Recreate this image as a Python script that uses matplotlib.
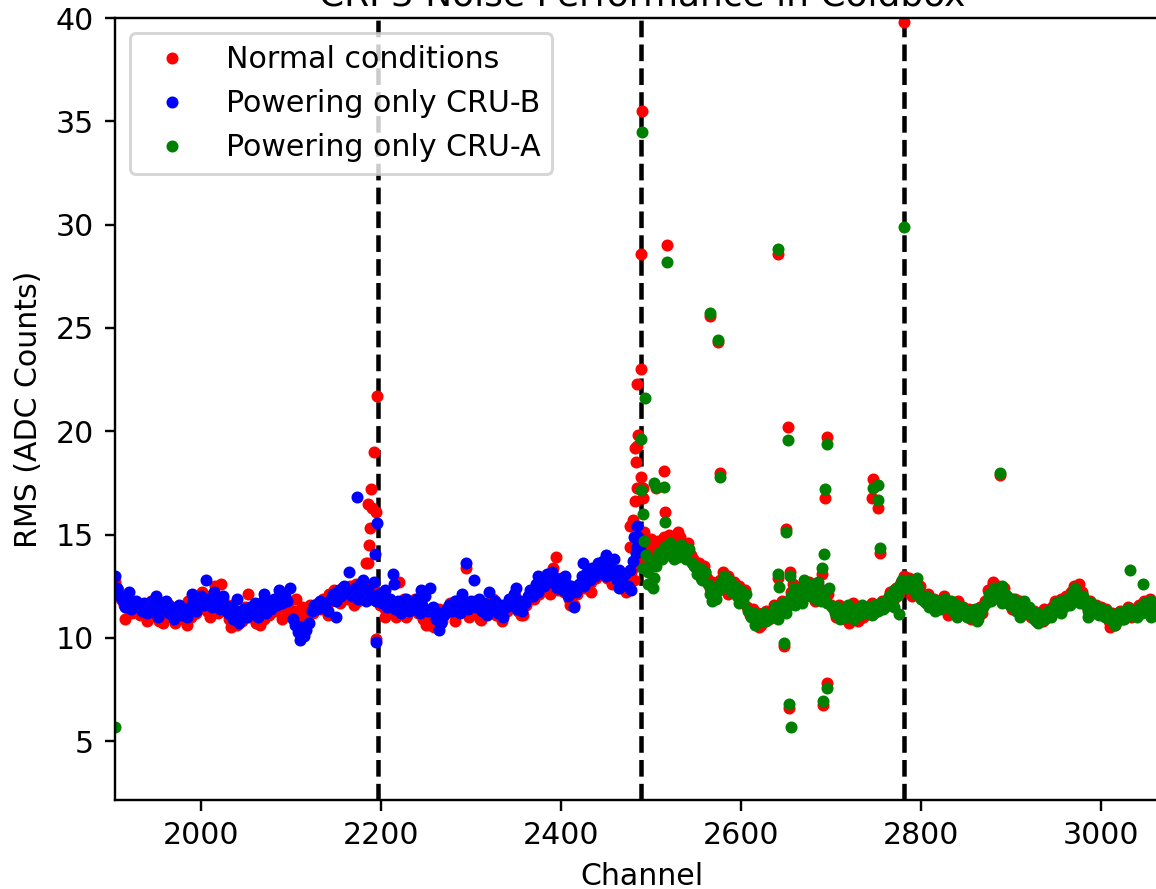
import numpy as np
import matplotlib
matplotlib.use("Agg")
import matplotlib.pyplot as plt

# ---------------- data ----------------
# Normal conditions (red) - band values, channels 1905, 1908, ...
red_start = 1905
red_band = [
    12.7, 12.3, 11.9, 11.6, 12.0, 11.4, 11.2, 11.7, 11.3,
    11.1, 11.6, 11.4, 10.9, 11.8, 11.2, 11.5, 10.8, 11.7, 11.3, 11.0, 11.6, 11.4, 10.7, 11.2,
    11.5, 10.9, 11.3, 11.8, 11.0, 11.6, 11.2, 11.9,
    12.2, 11.7, 11.3, 12.0, 11.5, 12.5, 11.2, 12.6, 11.9,
    11.4, 10.9, 11.6, 11.0, 10.6, 11.3, 10.8, 11.5, 12.1, 11.0,
    11.2, 10.7, 11.6, 11.3, 10.9, 11.5, 11.1,
    11.8, 11.3, 11.9, 11.5, 12.0, 11.4, 11.7, 11.2,
    11.3, 11.9, 11.0, 11.5, 10.9, 11.4, 11.6, 11.2, 11.5,
    11.7, 11.4, 11.9, 11.6, 12.1, 11.8, 12.3, 12.0, 11.7, 12.4, 12.2,
    11.9, 12.5, 12.1, 12.6, 11.8, 12.3, 12.0, 12.4, 12.2, 11.9, 12.3, 12.0,
    11.6, 12.1, 11.4, 11.8, 11.2, 11.5, 11.0, 11.7, 11.3, 11.9, 11.1, 11.6,
    11.4, 11.9, 11.2, 11.6, 10.9, 11.3, 10.6, 11.1, 10.5, 11.0, 11.4, 10.8, 11.2, 11.5,
    11.7, 11.2, 11.8, 11.4, 11.9, 11.3, 11.6, 11.0, 11.5,
    11.8, 11.3, 10.9, 11.6, 11.2, 11.7, 11.4,
    11.9, 11.1, 11.5, 10.9, 11.6, 11.3, 11.8,
    11.5, 12.0, 11.3, 11.7, 11.1, 11.6, 11.9,
    12.2, 11.9, 12.5, 12.1, 12.7,
    12.4, 13.0, 12.6, 13.4, 12.8, 12.3, 12.9,
    12.2, 12.6, 11.9, 12.4, 11.6, 12.1,
    12.5, 12.9, 12.4, 13.1, 12.7, 13.3, 12.9,
    13.5, 13.1, 13.6, 12.9, 13.4, 13.0, 13.3, 12.7, 13.2,
    12.6, 13.0, 12.4, 13.2, 12.8, 13.5, 14.0,
    14.6, 13.8, 14.3, 13.5, 14.1, 14.4,
    14.7, 14.2, 14.9, 14.5, 15.0, 14.6,
    14.8, 14.3, 14.9, 14.5, 14.2, 14.6, 14.0,
    13.8, 13.4, 13.6, 13.1, 13.5,
    12.9, 12.4, 12.7, 12.1, 12.5,
    12.8, 13.2, 12.6, 13.0, 12.4,
    12.7, 12.2, 12.5, 11.9, 12.3,
    11.5, 11.1, 11.4, 10.8, 11.2, 10.6, 11.0, 11.3, 10.9,
    11.2, 11.6, 11.0, 11.4, 11.8, 11.3, 11.7,
    12.2, 12.6, 12.0, 12.4, 11.9, 12.5, 12.1, 12.7, 12.3, 11.8, 12.4, 12.0,
    12.3, 11.8, 12.1, 11.6,
    11.4, 11.0, 11.6, 11.2, 10.9, 11.5, 11.1, 11.7, 11.3, 10.8, 11.4, 11.0, 11.5,
    11.3, 11.7, 11.2, 11.6, 11.4, 11.8, 11.5,
    11.9, 12.2, 11.8, 12.4, 12.1, 12.7, 13.0,
    12.6, 12.9, 12.3, 12.7, 12.2, 12.5,
    12.0, 11.7, 12.1, 11.6, 11.9, 11.4, 11.8, 11.5, 12.0, 11.6, 11.3, 11.7, 11.4, 11.8, 11.2, 11.5,
    11.1, 11.4, 10.9, 11.3, 11.0, 11.5, 11.2,
    11.8, 12.3, 12.0, 12.6, 12.2, 12.5, 11.9, 12.4, 12.0,
    11.7, 11.4, 11.9, 11.5, 11.8, 11.3, 11.6, 11.2,
    11.0, 11.3, 10.8, 11.1, 10.9, 11.4, 11.0, 11.3,
    11.5, 11.8, 11.4, 11.9, 11.6, 12.0, 11.7, 12.2, 12.5, 12.1, 11.8, 12.2,
    11.7, 11.4, 11.8, 11.3, 11.6, 11.2, 11.5,
    11.1, 11.4, 10.8, 11.2, 10.6, 11.0, 11.3, 10.9, 11.2, 11.5, 11.0, 11.4, 11.1,
    11.6, 11.3, 11.8, 11.5, 11.9, 11.4, 11.7, 11.2, 11.6, 11.9, 11.5, 11.8,
]
red_extra_ch = [1916, 1940, 1958, 1985, 2010, 2033, 2066, 2090, 2141, 2170, 2205, 2228,
                2250, 2282, 2311, 2335, 2356, 2388, 2410, 2433, 2457, 2472,
                2500, 2530, 2560, 2585, 2620, 2665, 2720, 2735, 2790, 2830, 2880, 2935,
                2975, 3010, 3060]
red_extra_rms = [10.9, 10.8, 10.7, 10.6, 11.0, 10.5, 10.6, 10.9, 11.1, 11.6, 11.0, 11.0,
                 10.6, 10.8, 10.85, 10.8, 11.1, 12.1, 11.6, 12.2, 12.6, 12.2,
                 14.8, 15.1, 13.2, 12.1, 10.5, 11.8, 10.7, 11.0, 12.0, 11.1, 12.7, 10.8,
                 12.6, 10.5, 11.1]
red_out_ch = [2196, 2192, 2189, 2186, 2190, 2194, 2188, 2187, 2183, 2186, 2194, 2220, 2295, 2394,
              2490, 2489, 2489, 2484, 2486, 2482, 2484, 2483, 2489, 2485, 2491, 2482, 2491,
              2480, 2477, 2492, 2477, 2506, 2514, 2516, 2518, 2565, 2574, 2577, 2641, 2641,
              2648, 2650, 2652, 2653, 2654, 2690, 2691, 2693, 2696, 2696, 2747, 2746, 2752,
              2754, 2781, 2888]
red_out_rms = [21.7, 19.0, 17.2, 16.5, 16.3, 16.1, 15.3, 14.5, 13.6, 13.6, 9.95, 12.7, 13.4, 13.9,
               35.5, 28.6, 23.0, 22.3, 19.8, 19.2, 19.3, 18.5, 17.8, 17.25, 17.25, 16.6, 16.75,
               15.7, 15.4, 15.1, 14.4, 17.25, 18.05, 16.1, 29.0, 25.6, 24.3, 18.0, 28.57, 12.9,
               9.6, 15.25, 20.2, 6.6, 13.2, 13.1, 6.75, 16.77, 19.7, 7.8, 17.7, 16.77, 16.3,
               14.1, 39.8, 17.9]

# Powering only CRU-B (blue) - band values, channels 1904, 1907, ...
blue_start = 1904
blue_band = [
    13.0, 12.4, 12.0, 11.8, 11.5, 11.9, 11.4, 11.6, 11.8,
    11.5, 11.3, 11.7, 11.2, 11.5, 11.8, 11.3, 11.0, 11.6, 11.4, 11.8, 11.2, 11.5, 10.9, 11.3,
    11.6, 11.1, 11.4, 11.0, 11.5, 11.8, 11.3, 11.7,
    12.0, 11.6, 12.8, 11.9, 11.5, 12.2, 11.8, 11.4, 12.0,
    11.6, 11.2, 11.5, 10.9, 11.3, 10.7, 11.1, 11.4, 11.0, 11.5,
    11.3, 11.7, 11.0, 11.4, 11.8, 11.2, 11.6,
    11.4, 11.9, 11.6, 12.3, 11.7, 12.0, 11.8, 12.4,
    10.9, 10.6, 10.3, 10.5, 10.1, 10.4, 10.7, 11.3, 11.6,
    11.4, 11.8, 11.5, 11.7, 11.3, 11.9, 12.1, 11.8, 12.3, 12.0, 12.5,
    12.2, 13.2, 12.0, 12.4, 11.9, 12.6, 12.1, 11.8, 12.3, 12.0, 12.7, 11.8,
    12.1, 11.7, 12.3, 11.5, 11.9, 13.1, 11.4, 11.8, 11.2, 11.6, 11.9, 11.3,
    11.7, 11.4, 11.9, 11.2, 11.6, 12.0, 11.3, 12.4, 11.5, 10.9, 11.2, 10.7, 11.1, 11.4,
    11.6, 11.3, 11.8, 11.5, 11.2, 11.7, 13.6, 11.4, 11.8,
    12.8, 11.5, 11.9, 11.3, 11.7, 11.1, 11.6,
    11.4, 11.8, 11.2, 11.6, 11.0, 11.5, 11.9,
    11.6, 12.1, 11.4, 11.8, 11.3, 11.7, 12.0,
    12.3, 12.0, 12.6, 12.2, 12.8,
    12.5, 13.1, 12.7, 13.2, 12.9, 12.4, 12.8,
    12.3, 12.7, 12.0, 12.5, 11.5, 12.2,
    12.6, 13.0, 12.5, 13.2, 12.8, 13.4, 13.0,
    13.6, 13.2, 13.7, 13.0, 13.5, 13.1, 13.8, 12.8, 13.3,
    12.7, 13.1, 12.5, 13.3, 13.7, 14.1, 14.9,
]
blue_extra_ch = [1920, 1950, 1990, 2040, 2070, 2110, 2150, 2180, 2215, 2245, 2265, 2290,
                 2320, 2350, 2375, 2405, 2425, 2450, 2465, 2478]
blue_extra_rms = [12.2, 12.0, 12.1, 11.9, 12.1, 9.9, 11.0, 12.8, 12.6, 12.3, 10.4, 12.1,
                  12.2, 12.4, 13.0, 13.0, 13.6, 14.0, 12.4, 12.3]
blue_out_ch = [2173, 2196, 2193, 2194, 2484, 2485, 2481, 2488]
blue_out_rms = [16.8, 15.55, 14.05, 9.8, 15.4, 14.4, 14.9, 14.25]

# Powering only CRU-A (green) - band values, channels 2491, 2494, ...
green_start = 2491
green_band = [
    13.4, 14.0, 13.2, 13.7, 12.9, 13.5,
    14.1, 13.8, 14.4, 14.0, 14.6, 14.2,
    14.4, 13.9, 14.5, 14.1, 13.8, 14.3, 13.6,
    13.5, 13.1, 13.4, 12.8, 13.2,
    12.6, 12.1, 12.4, 11.9, 12.3,
    12.7, 13.0, 12.4, 12.8, 12.2,
    12.5, 12.0, 12.3, 11.8, 12.1,
    11.3, 11.0, 11.2, 10.7, 11.1, 10.8, 11.2, 10.9, 11.1,
    11.0, 11.5, 10.9, 11.3, 11.7, 11.2, 11.6,
    12.0, 12.4, 11.8, 12.3, 11.7, 12.2, 12.5, 12.0, 12.6, 11.9, 12.2, 11.8,
    12.1, 11.7, 12.4, 11.5,
    11.2, 11.5, 10.9, 11.3, 11.0, 11.6, 11.2, 10.9, 11.4, 11.1, 11.6, 11.2, 11.4,
    11.5, 11.2, 11.6, 11.3, 11.7, 11.4, 11.8,
    12.0, 11.7, 12.3, 12.0, 12.5, 12.8, 12.4,
    12.8, 12.4, 12.6, 12.1, 12.4, 11.9,
    11.8, 12.0, 11.5, 11.9, 11.6, 11.8, 11.4, 11.7, 11.9, 11.5, 11.8, 11.3, 11.6, 11.2, 11.5, 11.3,
    11.0, 11.3, 11.1, 11.4, 10.9, 11.2, 11.5,
    11.7, 12.1, 11.8, 12.4, 12.0, 12.3, 11.7, 12.1, 11.8,
    11.6, 11.9, 11.3, 11.7, 11.4, 11.8, 11.2, 11.5,
    11.1, 10.9, 11.2, 10.8, 11.1, 10.9, 11.3, 11.0,
    11.4, 11.7, 11.3, 11.8, 11.5, 11.9, 11.6, 12.1, 12.4, 12.0, 11.7, 12.0,
    11.6, 11.3, 11.7, 11.2, 11.5, 11.1, 11.4,
    11.0, 11.3, 10.9, 11.1, 10.8, 11.2, 10.9, 11.3, 11.0, 11.4, 11.1, 11.3, 11.0,
    11.5, 11.2, 11.7, 11.4, 11.8, 11.3, 11.6, 11.1, 11.5, 11.8, 11.4,
]
green_extra_ch = [2497, 2502, 2525, 2555, 2568, 2598, 2616, 2628, 2660, 2670, 2685, 2710,
                  2725, 2745, 2770, 2795, 2815, 2840, 2862, 2890, 2910, 2930, 2955, 2985,
                  3015, 3025, 3055, 3070]
green_extra_rms = [12.6, 12.4, 13.8, 12.9, 11.8, 11.7, 10.6, 10.8, 11.6, 12.8, 12.7, 11.0,
                   10.9, 11.1, 11.5, 12.9, 11.3, 11.0, 10.8, 12.5, 11.0, 10.7, 11.2, 11.0,
                   10.6, 10.9, 11.0, 12.0]
green_out_ch = [1904, 2490, 2493, 2489, 2489, 2491, 2492, 2503, 2506, 2514, 2516, 2518,
                2565, 2574, 2577, 2641, 2641, 2642, 2648, 2650, 2652, 2653, 2654, 2656,
                2690, 2691, 2692, 2693, 2696, 2696, 2747, 2752, 2752, 2754, 2776, 2781,
                2888, 3032, 3047]
green_out_rms = [5.7, 34.5, 21.6, 19.6, 17.15, 16.0, 14.7, 17.5, 17.3, 17.3, 15.6, 28.2,
                 25.7, 24.4, 17.8, 28.8, 13.1, 12.46, 9.74, 15.1, 19.57, 6.8, 13.0, 5.7,
                 13.4, 6.94, 14.05, 17.2, 19.4, 7.56, 17.25, 17.4, 16.67, 14.34, 11.15, 29.9,
                 18.0, 13.3, 12.6]

boundaries = [2197, 2489, 2781]

# ---------------- plot ----------------
def assemble(start, band, extra_ch, extra_rms, out_ch, out_rms):
    ch = np.arange(start, start + 3 * len(band), 3)
    return (np.concatenate([ch, extra_ch, out_ch]),
            np.concatenate([band, extra_rms, out_rms]))

rx, ry = assemble(red_start, red_band, red_extra_ch, red_extra_rms, red_out_ch, red_out_rms)
bx, by = assemble(blue_start, blue_band, blue_extra_ch, blue_extra_rms, blue_out_ch, blue_out_rms)
gx, gy = assemble(green_start, green_band, green_extra_ch, green_extra_rms, green_out_ch, green_out_rms)

DPI = 216
fig = plt.figure(figsize=(1156 / DPI, 889 / DPI), dpi=DPI)
ax = fig.add_axes([114.5 / 1156, 89 / 889, 1055 / 1156, 782 / 889])

for b in boundaries:
    ax.axvline(b, color="black", linestyle="--", linewidth=1.5)

ax.plot(rx, ry, ".", color="red", label="Normal conditions")
ax.plot(bx, by, ".", color="blue", label="Powering only CRU-B")
ax.plot(gx, gy, ".", color="green", label="Powering only CRU-A")

ax.set_xlim(1904, 3076)
ax.set_ylim(2.15, 40)
ax.set_yticks([5, 10, 15, 20, 25, 30, 35, 40])
ax.set_xlabel("Channel")
ax.set_ylabel("RMS (ADC Counts)")
ax.set_title("CRP3 Noise Performance in Coldbox", pad=4.0)
ax.legend(loc="upper left")

fig.savefig("out.png", dpi=DPI)
